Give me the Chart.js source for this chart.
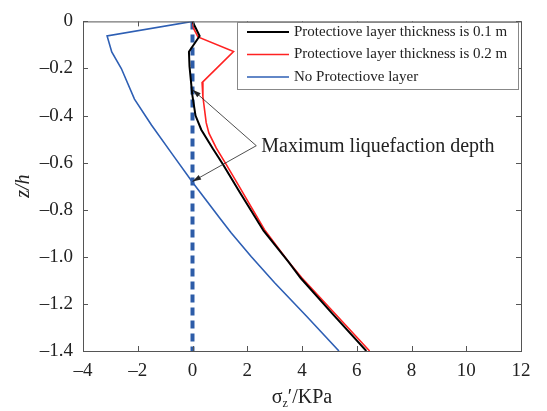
<!DOCTYPE html>
<html>
<head>
<meta charset="utf-8">
<script src="https://cdn.jsdelivr.net/npm/chart.js@4.4.0/dist/chart.umd.min.js"></script>
<style>
  body { margin: 0; background: #fff; }
  #wrap { width: 547px; height: 411px; }
</style>
</head>
<body>
<div id="wrap"><canvas id="stressChart" width="547" height="411"></canvas></div>
<script>
// axis ticks
const xTicks = [-4, -2, 0, 2, 4, 6, 8, 10, 12];
const yTicks = [0, -0.2, -0.4, -0.6, -0.8, -1.0, -1.2, -1.4];

// protective layer 0.1 m
const stress01 = [0, 0.26, -0.13, -0.11, -0.01, 0.11, 0.32, 0.74, 1.11, 1.72, 2.6, 3.5, 3.95, 5.1, 6.35];
const depth01  = [0, -0.062, -0.129, -0.19, -0.31, -0.40, -0.46, -0.54, -0.607, -0.725, -0.89, -1.02, -1.09, -1.24, -1.40];

// protective layer 0.2 m
const stress02 = [0, 0.04, 0.2, 1.5, 0.35, 0.38, 0.5, 0.6, 0.87, 1.23, 1.72, 2.63, 3.5, 4.0, 6.47];
const depth02  = [0, -0.03, -0.066, -0.128, -0.26, -0.32, -0.43, -0.475, -0.538, -0.607, -0.704, -0.885, -1.02, -1.09, -1.40];

// no protective layer
const stressNone = [0, -3.12, -2.95, -2.6, -2.12, -1.5, -0.7, 0, 1.0, 1.41, 2.15, 3.0, 4.15, 5.35];
const depthNone  = [0, -0.062, -0.13, -0.2, -0.33, -0.44, -0.57, -0.683, -0.836, -0.898, -1.0, -1.11, -1.25, -1.40];

// zero-stress reference line
const zeroLineX = [0, 0];
const zeroLineY = [0, -1.4];

// depths pointed at by the annotation arrows
const liqDepths = [-0.29, -0.68];
const annoText = 'Maximum liquefaction depth';

const legendLabels = ['Protectiove layer thickness is 0.1 m', 'Protectiove layer thickness is 0.2 m', 'No Protectiove layer'];

const serif = '"Liberation Serif", "Times New Roman", serif';

function toPoints(xs, ys) {
    return xs.map((x, i) => ({ x: x, y: ys[i] }));
}

function fmt(v, digits) {
    if (Math.abs(v) < 1e-9) return '0';
    return (v < 0 ? '\u2013' : '') + Math.abs(v).toFixed(digits);
}

// box, inward ticks, titles, legend and arrows
const decorPlugin = {
    id: 'decor',
    afterDatasetsDraw(chart) {
        const ctx = chart.ctx;
        const a = chart.chartArea;
        const xs = chart.scales.x, ys = chart.scales.y;
        ctx.save();

        ctx.strokeStyle = '#555';
        ctx.lineWidth = 1;
        ctx.strokeRect(a.left + 0.5, a.top + 0.5, a.right - a.left, a.bottom - a.top);
        ctx.beginPath();
        xTicks.forEach(t => {
            const px = Math.round(xs.getPixelForValue(t)) + 0.5;
            ctx.moveTo(px, a.bottom); ctx.lineTo(px, a.bottom - 5);
            ctx.moveTo(px, a.top); ctx.lineTo(px, a.top + 5);
        });
        yTicks.forEach(t => {
            const py = Math.round(ys.getPixelForValue(t)) + 0.5;
            ctx.moveTo(a.left, py); ctx.lineTo(a.left + 5, py);
            ctx.moveTo(a.right, py); ctx.lineTo(a.right - 5, py);
        });
        ctx.stroke();

        // x title with subscript
        ctx.fillStyle = '#222';
        ctx.textBaseline = 'alphabetic';
        ctx.font = '20px ' + serif;
        const cx = (a.left + a.right) / 2;
        const w1 = ctx.measureText('\u03c3').width;
        ctx.font = '12px ' + serif;
        const w2 = ctx.measureText('z').width;
        ctx.font = '20px ' + serif;
        const w3 = ctx.measureText('\u2032/KPa').width;
        let tx = cx - (w1 + w2 + w3) / 2;
        const by = 403;
        ctx.textAlign = 'left';
        ctx.fillText('\u03c3', tx, by);
        ctx.font = '12px ' + serif;
        ctx.fillText('z', tx + w1, by + 4);
        ctx.font = '20px ' + serif;
        ctx.fillText('\u2032/KPa', tx + w1 + w2, by);

        // y title
        ctx.save();
        ctx.translate(24, (a.top + a.bottom) / 2);
        ctx.rotate(-Math.PI / 2);
        ctx.textAlign = 'center';
        ctx.textBaseline = 'middle';
        ctx.font = 'italic 20px ' + serif;
        ctx.fillText('z/h', 0, 0);
        ctx.restore();

        // legend
        const lx = 237, ly = 22, lw = a.right - 3 - lx, lh = 67;
        ctx.fillStyle = '#fff';
        ctx.fillRect(lx, ly, lw, lh);
        ctx.strokeStyle = '#888';
        ctx.strokeRect(lx + 0.5, ly + 0.5, lw, lh);
        ctx.font = '15px ' + serif;
        ctx.textAlign = 'left';
        ctx.textBaseline = 'middle';
        legendLabels.forEach((lab, i) => {
            const ds = chart.data.datasets[i];
            const ry = ly + 10 + i * 22.5;
            ctx.strokeStyle = ds.borderColor;
            ctx.lineWidth = ds.borderWidth;
            ctx.beginPath();
            ctx.moveTo(lx + 10, ry); ctx.lineTo(lx + 52, ry);
            ctx.stroke();
            ctx.fillStyle = '#222';
            ctx.fillText(lab, lx + 57, ry);
        });

        // annotation arrows
        const sx = xs.getPixelForValue(2.33), sy = ys.getPixelForValue(-0.528);
        ctx.strokeStyle = '#222';
        ctx.fillStyle = '#222';
        ctx.lineWidth = 0.8;
        liqDepths.forEach(d => {
            const ex = xs.getPixelForValue(0), ey = ys.getPixelForValue(d);
            const ang = Math.atan2(ey - sy, ex - sx);
            ctx.beginPath();
            ctx.moveTo(sx, sy); ctx.lineTo(ex, ey);
            ctx.stroke();
            ctx.beginPath();
            ctx.moveTo(ex, ey);
            ctx.lineTo(ex - 9 * Math.cos(ang - 0.3), ey - 9 * Math.sin(ang - 0.3));
            ctx.lineTo(ex - 9 * Math.cos(ang + 0.3), ey - 9 * Math.sin(ang + 0.3));
            ctx.closePath();
            ctx.fill();
        });
        ctx.font = '20px ' + serif;
        ctx.textAlign = 'left';
        ctx.textBaseline = 'middle';
        ctx.fillText(annoText, sx + 5, sy + 1);

        ctx.restore();
    }
};

const ctx = document.getElementById('stressChart').getContext('2d');
const stressChart = new Chart(ctx, {
    type: 'scatter',
    data: {
        datasets: [{
            label: legendLabels[0],
            data: toPoints(stress01, depth01),
            showLine: true,
            borderColor: '#000',
            borderWidth: 2,
            pointRadius: 0
        }, {
            label: legendLabels[1],
            data: toPoints(stress02, depth02),
            showLine: true,
            borderColor: '#f22',
            borderWidth: 1.6,
            pointRadius: 0
        }, {
            label: legendLabels[2],
            data: toPoints(stressNone, depthNone),
            showLine: true,
            borderColor: '#2e5fb4',
            borderWidth: 1.6,
            pointRadius: 0
        }, {
            label: 'zero',
            data: toPoints(zeroLineX, zeroLineY),
            showLine: true,
            borderColor: '#2d5ca8',
            borderWidth: 4,
            borderDash: [8, 5],
            pointRadius: 0
        }]
    },
    options: {
        responsive: false,
        animation: false,
        devicePixelRatio: 1,
        layout: { padding: { top: 14, right: 26, left: 0, bottom: 0 } },
        plugins: {
            legend: { display: false },
            tooltip: { enabled: false }
        },
        scales: {
            x: {
                type: 'linear',
                min: -4,
                max: 12,
                afterBuildTicks: s => { s.ticks = xTicks.map(v => ({ value: v })); },
                afterFit: s => { s.height = 60; },
                grid: { display: false, drawTicks: false },
                border: { display: false },
                ticks: {
                    padding: 9,
                    color: '#222',
                    font: { family: serif, size: 19 },
                    callback: v => fmt(v, 0)
                }
            },
            y: {
                type: 'linear',
                min: -1.4,
                max: 0,
                afterBuildTicks: s => { s.ticks = yTicks.map(v => ({ value: v })); },
                afterFit: s => { s.width = 83; },
                grid: { display: false, drawTicks: false },
                border: { display: false },
                ticks: {
                    padding: 10,
                    color: '#222',
                    font: { family: serif, size: 19 },
                    callback: v => fmt(v, 1)
                }
            }
        }
    },
    plugins: [decorPlugin]
});
</script>
</body>
</html>
